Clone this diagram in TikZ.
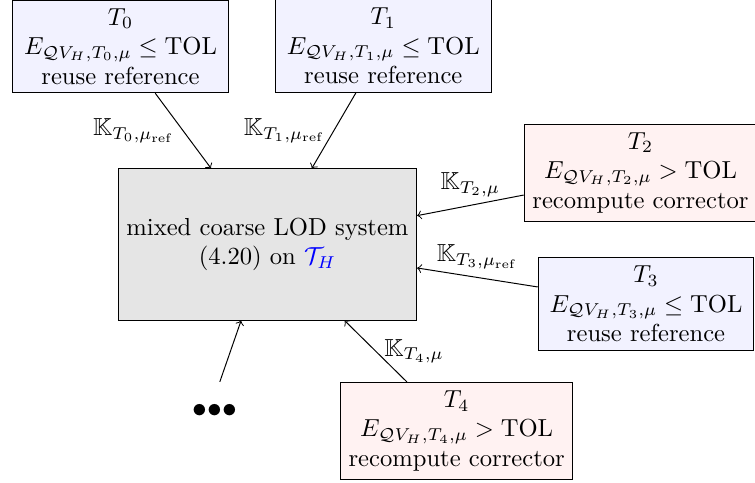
\documentclass[tikz,border=0pt]{standalone}
\usepackage{amsmath,amssymb}
\begin{document}
\begin{tikzpicture}
    \tikzset{
      reusebox/.style={draw, fill=blue!5, align=center, minimum width=3.08cm},
      recompbox/.style={draw, fill=red!5, align=center},
      sysbox/.style={draw, fill=gray!20, align=center, minimum width=4.26cm, minimum height=2.16cm}
    }
    \useasboundingbox (0,0) rectangle (10.786,6.886);
    \node[sysbox] (sys) at (3.821,3.393) {mixed coarse LOD system\\(4.20) on \textcolor{blue}{$\mathcal{T}_H$}};
    \node[reusebox] (T0) at (1.721,6.223) {$T_0$\\$E_{\mathcal{Q}V_H,T_0,\mu}\leq\mathrm{TOL}$\\reuse reference};
    \node[reusebox] (T1) at (5.476,6.231) {$T_1$\\$E_{\mathcal{Q}V_H,T_1,\mu}\leq\mathrm{TOL}$\\reuse reference};
    \node[recompbox] (T2) at (9.15,4.421) {$T_2$\\$E_{\mathcal{Q}V_H,T_2,\mu}>\mathrm{TOL}$\\recompute corrector};
    \node[reusebox] (T3) at (9.229,2.543) {$T_3$\\$E_{\mathcal{Q}V_H,T_3,\mu}\leq\mathrm{TOL}$\\reuse reference};
    \node[recompbox] (T4) at (6.524,0.729) {$T_4$\\$E_{\mathcal{Q}V_H,T_4,\mu}>\mathrm{TOL}$\\recompute corrector};
    \node (dots) at (3.071,1.014) {\large${\bullet}{\bullet}{\bullet}$};
    % couplings into the coarse system
    \draw[->] (T0) -- (sys) node[midway,left] (k0) {$\mathbb{K}_{T_0,\mu_{\mathrm{ref}}}$};
    \draw[->] (T1) -- (sys) node[midway,left] (k1) {$\mathbb{K}_{T_1,\mu_{\mathrm{ref}}}$};
    \draw[->] (T2) -- (sys) node[midway,above] (k2) {$\mathbb{K}_{T_2,\mu}$};
    \draw[->] (T3) -- (sys) node[midway,above] (k3) {$\mathbb{K}_{T_3,\mu_{\mathrm{ref}}}$};
    \draw[->] (T4) -- (sys) node[midway,right] (k4) {$\mathbb{K}_{T_4,\mu}$};
    \draw[->,shorten <=6pt] (dots.north) -- (sys);
  \end{tikzpicture}
\end{document}
